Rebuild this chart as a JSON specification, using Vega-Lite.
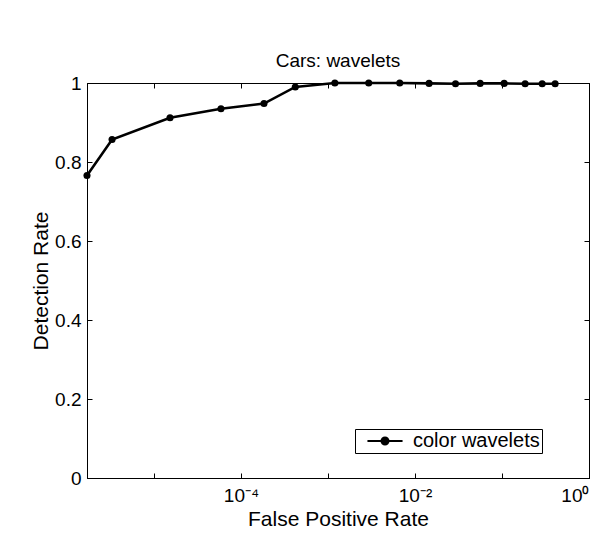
{
  "$schema": "https://vega.github.io/schema/vega-lite/v6.json",
  "autosize": "none",
  "width": 502,
  "height": 395,
  "padding": {"left": 87, "top": 83, "right": 24, "bottom": 64},
  "background": "white",
  "config": {
    "font": "Liberation Sans",
    "view": {"stroke": "black", "strokeWidth": 1},
    "axis": {"grid": false, "domainColor": "black", "tickColor": "black", "labelColor": "black", "titleColor": "black", "labelFont": "Liberation Sans", "titleFont": "Liberation Sans", "titleFontWeight": "normal"}
  },
  "title": {"text": "Cars: wavelets", "fontSize": 19, "fontWeight": "normal", "font": "Liberation Sans", "color": "black", "offset": 3},
  "data": {"values": [
    {"fpr": 0.0000017, "det": 0.766, "series": "color wavelets"},
    {"fpr": 0.0000033, "det": 0.857, "series": "color wavelets"},
    {"fpr": 0.0000153, "det": 0.912, "series": "color wavelets"},
    {"fpr": 0.0000589, "det": 0.935, "series": "color wavelets"},
    {"fpr": 0.000184, "det": 0.948, "series": "color wavelets"},
    {"fpr": 0.000421, "det": 0.99, "series": "color wavelets"},
    {"fpr": 0.0012, "det": 1.0, "series": "color wavelets"},
    {"fpr": 0.00294, "det": 1.0, "series": "color wavelets"},
    {"fpr": 0.00668, "det": 1.0, "series": "color wavelets"},
    {"fpr": 0.01452, "det": 0.999, "series": "color wavelets"},
    {"fpr": 0.02924, "det": 0.998, "series": "color wavelets"},
    {"fpr": 0.0561, "det": 0.999, "series": "color wavelets"},
    {"fpr": 0.1059, "det": 0.999, "series": "color wavelets"},
    {"fpr": 0.1845, "det": 0.998, "series": "color wavelets"},
    {"fpr": 0.2897, "det": 0.998, "series": "color wavelets"},
    {"fpr": 0.4083, "det": 0.998, "series": "color wavelets"}
  ]},
  "layer": [
    {
      "mark": {"type": "line", "strokeWidth": 2.6, "point": {"filled": true, "size": 50, "color": "black"}},
      "encoding": {
        "x": {"field": "fpr", "type": "quantitative", "scale": {"type": "log", "domain": [0.0000017, 1], "nice": false},
          "axis": {"orient": "bottom", "values": [0.00001, 0.0001, 0.001, 0.01, 0.1, 1], "tickSize": -5, "labelPadding": 13, "labelFontSize": 19, "labelExpr": "datum.value == 0.0001 ? '10⁻⁴' : datum.value == 0.01 ? '10⁻²' : datum.value == 1 ? '10⁰' : ''", "title": "False Positive Rate", "titleFontSize": 21, "titleBaseline": "alphabetic", "titleY": 47}},
        "y": {"field": "det", "type": "quantitative", "scale": {"domain": [0, 1], "nice": false},
          "axis": {"orient": "left", "values": [0, 0.2, 0.4, 0.6, 0.8, 1], "format": ".1~f", "tickSize": -5, "labelPadding": 11, "labelFontSize": 19, "title": "Detection Rate", "titleFontSize": 21, "titlePadding": 3}},
        "color": {"field": "series", "type": "nominal", "scale": {"range": ["black"]},
          "legend": {"orient": "none", "legendX": 268, "legendY": 346, "title": null, "strokeColor": "black", "fillColor": "white", "padding": 2,
            "labelFontSize": 20, "labelFont": "Liberation Sans", "labelColor": "black",
            "symbolType": "M-1.95,0H1.95M0.39,0A0.39,0.39,0,1,1,-0.39,0A0.39,0.39,0,1,1,0.39,0Z",
            "symbolSize": 324, "symbolStrokeWidth": 2, "symbolOffset": 18, "labelOffset": 18,
            "encode": {"symbols": {"update": {"fill": {"value": "black"}, "stroke": {"value": "black"}, "opacity": {"value": 1}}}}}}
      }
    },
    {
      "mark": {"type": "point", "opacity": 0},
      "encoding": {
        "x": {"field": "fpr", "type": "quantitative", "axis": {"orient": "top", "values": [0.00001, 0.0001, 0.001, 0.01, 0.1, 1], "tickSize": -5, "labels": false, "title": null}},
        "y": {"field": "det", "type": "quantitative", "axis": {"orient": "right", "values": [0, 0.2, 0.4, 0.6, 0.8, 1], "tickSize": -5, "labels": false, "title": null}}
      }
    }
  ],
  "resolve": {"axis": {"x": "independent", "y": "independent"}}
}
